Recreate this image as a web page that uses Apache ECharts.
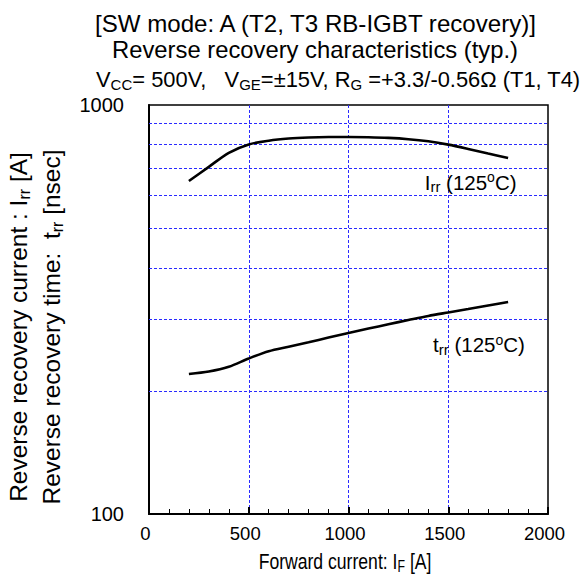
<!DOCTYPE html>
<html>
<head>
<meta charset="utf-8">
<script src="https://cdn.jsdelivr.net/npm/echarts@6/dist/echarts.min.js"></script>
<style>
  html, body { margin: 0; padding: 0; background: #fff; }
  #chart { width: 583px; height: 582px; }
</style>
</head>
<body>
<div id="chart"></div>
<script>
// Forward current I_F [A] sample points shared by both curves
const forwardCurrent = [200, 300, 400, 500, 600, 700, 800, 900, 1000, 1100, 1200, 1300, 1400, 1500, 1600, 1700, 1800];
// Reverse recovery current Irr [A] at 125 °C
const irr125 = [652, 706, 764, 801, 818, 828, 833, 835, 835, 834, 831, 825, 815, 800, 781, 761, 742];
// Reverse recovery time trr [nsec] at 125 °C
const trr125 = [220, 223, 229, 240, 250, 256.5, 263, 270, 277, 284, 291, 298, 305, 311, 317, 323.5, 330];

// Axis ranges and grid values
const xRange = [0, 2000];
const xStep = 500;
const yRange = [100, 1000];
const yGridValues = [200, 300, 400, 500, 600, 700, 800, 900];

// Curve label anchors [I_F, value]
const irrLabelAt = [1382, 647];
const trrLabelAt = [1424, 259];

const FONT = 'Liberation Sans, Arial, sans-serif';
const gridBlue = '#2a2aff';

const chart = echarts.init(document.getElementById('chart'), null, { renderer: 'svg' });

const labelRich = {
  m: { fontSize: 20.5, lineHeight: 24, fontFamily: FONT, color: '#000' },
  s: { fontSize: 15, lineHeight: 15, fontFamily: FONT, color: '#000', verticalAlign: 'bottom' },
  p: { fontSize: 14, lineHeight: 14, fontFamily: FONT, color: '#000', verticalAlign: 'top' }
};

function curveLabel(coord, sym) {
  return {
    symbol: 'circle',
    symbolSize: 0,
    silent: true,
    data: [{ coord: coord }],
    label: {
      show: true,
      position: 'right',
      distance: 0,
      formatter: '{m|' + sym + '}{s|rr}{m| (125}{p|o}{m|C)}',
      rich: labelRich
    }
  };
}

const option = {
  backgroundColor: '#fff',
  animation: false,
  grid: {
    left: 149, right: 35, top: 105, bottom: 68,
    show: true, borderColor: '#000', borderWidth: 1.5, backgroundColor: 'transparent'
  },
  xAxis: {
    type: 'value',
    min: xRange[0], max: xRange[1], interval: xStep,
    axisLine: { show: true, lineStyle: { color: '#000', width: 2 } },
    axisTick: { show: true, inside: true, length: 7, lineStyle: { color: '#000', width: 2 } },
    minorTick: { show: true, splitNumber: 5, length: 5, lineStyle: { color: '#000', width: 1 } },
    axisLabel: {
      color: '#000', fontSize: 18.5, fontFamily: FONT, margin: 10, padding: [0, 7, 0, 0],
      formatter: function (v) { return String(v); }
    },
    splitLine: {
      show: true, showMinLine: false, showMaxLine: false,
      lineStyle: { color: gridBlue, width: 1, type: [3, 2] }
    }
  },
  yAxis: {
    type: 'log', logBase: 10,
    min: yRange[0], max: yRange[1],
    axisLine: { show: true, lineStyle: { color: '#000', width: 2 } },
    axisTick: { show: false },
    axisLabel: {
      color: '#000', fontSize: 20, fontFamily: FONT, margin: 25,
      formatter: function (v) { return String(Math.round(v)); }
    },
    splitLine: { show: false }
  },
  series: [
    {
      name: 'Irr',
      type: 'line',
      data: forwardCurrent.map(function (x, i) { return [x, irr125[i]]; }),
      smooth: 0.3,
      symbol: 'none',
      lineStyle: { color: '#000', width: 2.6 },
      z: 5,
      markLine: {
        silent: true,
        symbol: 'none',
        label: { show: false },
        lineStyle: { color: gridBlue, width: 1, type: [3, 2] },
        data: yGridValues.map(function (v) { return { yAxis: v }; })
      },
      markPoint: curveLabel(irrLabelAt, 'I')
    },
    {
      name: 'trr',
      type: 'line',
      data: forwardCurrent.map(function (x, i) { return [x, trr125[i]]; }),
      smooth: 0.3,
      symbol: 'none',
      lineStyle: { color: '#000', width: 2.6 },
      z: 5,
      markPoint: curveLabel(trrLabelAt, 't')
    }
  ],
  graphic: [
    {
      type: 'text', x: 315.5, y: 23.5,
      style: {
        text: '[SW mode: A (T2, T3 RB-IGBT recovery)]',
        fontSize: 24.1, fontFamily: FONT, fill: '#000', align: 'center', verticalAlign: 'middle'
      }
    },
    {
      type: 'text', x: 315, y: 49,
      style: {
        text: 'Reverse recovery characteristics (typ.)',
        fontSize: 23.8, fontFamily: FONT, fill: '#000', align: 'center', verticalAlign: 'middle'
      }
    },
    {
      type: 'text', x: 96, y: 79,
      style: {
        text: '{n|V}{s|CC}{n|= 500V,   V}{s|GE}{n|=±15V, R}{s|G}{n| =+3.3/-0.56Ω (T1, T4)}',
        align: 'left', verticalAlign: 'middle', fill: '#000',
        rich: {
          n: { fontSize: 21.9, lineHeight: 25, fontFamily: FONT, fill: '#000' },
          s: { fontSize: 15, lineHeight: 15, fontFamily: FONT, fill: '#000', verticalAlign: 'bottom' }
        }
      }
    },
    {
      type: 'text', x: 18.5, y: 327, rotation: Math.PI / 2,
      style: {
        text: '{n|Reverse recovery current : I}{s|rr}{n| [A]}',
        align: 'center', verticalAlign: 'middle', fill: '#000',
        rich: {
          n: { fontSize: 24.5, lineHeight: 28, fontFamily: FONT, fill: '#000' },
          s: { fontSize: 16, lineHeight: 16, fontFamily: FONT, fill: '#000', verticalAlign: 'bottom' }
        }
      }
    },
    {
      type: 'text', x: 51, y: 327, rotation: Math.PI / 2,
      style: {
        text: '{n|Reverse recovery time:  t}{s|rr}{n| [nsec]}',
        align: 'center', verticalAlign: 'middle', fill: '#000',
        rich: {
          n: { fontSize: 24.5, lineHeight: 28, fontFamily: FONT, fill: '#000' },
          s: { fontSize: 16, lineHeight: 16, fontFamily: FONT, fill: '#000', verticalAlign: 'bottom' }
        }
      }
    },
    {
      type: 'text', x: 345, y: 561, scaleX: 0.88, scaleY: 1.12,
      style: {
        text: '{n|Forward current: I}{s|F}{n| [A]}',
        align: 'center', verticalAlign: 'middle', fill: '#000',
        rich: {
          n: { fontSize: 20, lineHeight: 24, fontFamily: FONT, fill: '#000' },
          s: { fontSize: 14, lineHeight: 14, fontFamily: FONT, fill: '#000', verticalAlign: 'bottom' }
        }
      }
    }
  ]
};

chart.setOption(option);
</script>
</body>
</html>
